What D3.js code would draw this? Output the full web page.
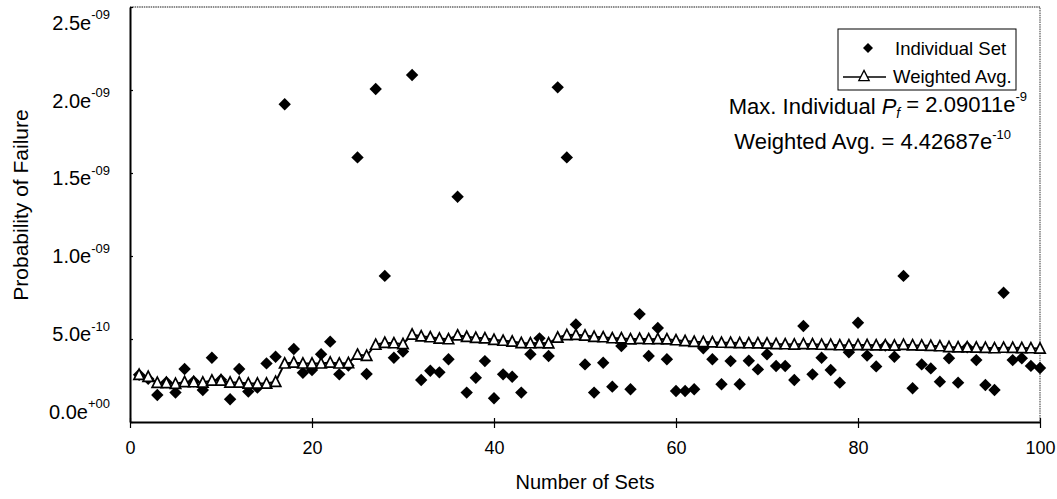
<!DOCTYPE html>
<html>
<head>
<meta charset="utf-8">
<script src="https://cdn.jsdelivr.net/npm/d3@7"></script>
<style>
  html, body { margin: 0; padding: 0; background: #fff; }
  svg { display: block; font-family: "Liberation Sans", Arial, sans-serif; }
</style>
</head>
<body>
<svg id="chart" width="1057" height="499"></svg>
<script>
// Probability of failure per set, in units of 1e-9
const setNumbers = d3.range(1, 101);
const individualSet = [
  0.285, 0.26, 0.163, 0.24, 0.177, 0.319, 0.245, 0.193, 0.387, 0.255,
  0.137, 0.319, 0.183, 0.207, 0.353, 0.393, 1.914, 0.44, 0.297, 0.313,
  0.408, 0.484, 0.287, 0.34, 1.594, 0.289, 2.006, 0.88, 0.387, 0.424,
  2.09011, 0.253, 0.309, 0.299, 0.378, 1.357, 0.177, 0.267, 0.367, 0.143,
  0.287, 0.273, 0.177, 0.408, 0.504, 0.398, 2.016, 1.594, 0.588, 0.347,
  0.177, 0.357, 0.213, 0.458, 0.197, 0.65, 0.398, 0.566, 0.378, 0.187,
  0.187, 0.197, 0.444, 0.378, 0.227, 0.367, 0.227, 0.369, 0.317, 0.408,
  0.337, 0.337, 0.253, 0.578, 0.287, 0.387, 0.313, 0.237, 0.42, 0.598,
  0.40, 0.335, 0.46, 0.393, 0.88, 0.203, 0.347, 0.323, 0.243, 0.384,
  0.237, 0.45, 0.373, 0.223, 0.193, 0.779, 0.373, 0.384, 0.338, 0.325
];
const weightedAvg = [
  0.285, 0.273, 0.236, 0.235, 0.230, 0.241, 0.240, 0.238, 0.250, 0.250,
  0.238, 0.238, 0.232, 0.232, 0.232, 0.242, 0.353, 0.358, 0.353, 0.353,
  0.353, 0.358, 0.353, 0.355, 0.406, 0.399, 0.466, 0.477, 0.475, 0.470,
  0.527, 0.517, 0.511, 0.503, 0.499, 0.522, 0.513, 0.507, 0.504, 0.495,
  0.490, 0.485, 0.476, 0.475, 0.476, 0.474, 0.509, 0.524, 0.525, 0.521,
  0.514, 0.511, 0.505, 0.504, 0.498, 0.501, 0.499, 0.500, 0.498, 0.493,
  0.488, 0.483, 0.482, 0.480, 0.478, 0.477, 0.476, 0.475, 0.474, 0.473,
  0.470, 0.469, 0.467, 0.470, 0.468, 0.466, 0.465, 0.463, 0.463, 0.464,
  0.464, 0.462, 0.462, 0.461, 0.465, 0.462, 0.461, 0.459, 0.457, 0.452,
  0.450, 0.450, 0.449, 0.447, 0.445, 0.448, 0.447, 0.446, 0.445, 0.4427
];
const xTicks = [0, 20, 40, 60, 80, 100];
const yTicks = [0, 0.5, 1.0, 1.5, 2.0, 2.5];
const yTickMantissa = ["0.0e", "5.0e", "1.0e", "1.5e", "2.0e", "2.5e"];
const yTickExponent = ["+00", "-10", "-09", "-09", "-09", "-09"];
const seriesNames = ["Individual Set", "Weighted Avg."];

const svg = d3.select("#chart");
const W = 1057, H = 499;
const margin = { left: 130, top: 7, right: 17, bottom: 77 };
const iw = W - margin.left - margin.right;
const ih = H - margin.top - margin.bottom;

const x = d3.scaleLinear().domain([0, 100]).range([margin.left, margin.left + iw]);
const y = d3.scaleLinear().domain([0, 2.5]).range([margin.top + ih, margin.top]);
// tick labels sit on a slightly tighter spacing than the tick marks
const yLabel = d3.scaleLinear().domain([0, 2.5]).range([411, 22]);

// plot frame: top and right edges are a light dotted border
svg.append("path")
  .attr("d", `M${x(0)},${y(2.5)}H${x(100)}V${y(0)}`)
  .attr("fill", "none").attr("stroke", "#666").attr("stroke-width", 1.3)
  .attr("stroke-dasharray", "1.5,0.8");

// x axis
const xAxis = svg.append("g")
  .attr("transform", `translate(0,${y(0)})`)
  .call(d3.axisBottom(x).tickValues(xTicks).tickSize(6).tickSizeOuter(0));
xAxis.select(".domain").attr("stroke", "#000").attr("stroke-width", 2);
xAxis.selectAll(".tick line").attr("stroke", "#000").attr("stroke-width", 1.2).attr("y1", -4);
xAxis.selectAll(".tick text").attr("font-size", 18).attr("fill", "#000")
  .attr("y", 26).attr("dy", "0.35em");

// y axis with exponent superscripts
const yAxis = svg.append("g")
  .attr("transform", `translate(${x(0)},0)`)
  .call(d3.axisLeft(y).tickValues(yTicks).tickSize(6).tickPadding(14).tickSizeOuter(0).tickFormat(() => ""));
yAxis.select(".domain").attr("stroke", "#000").attr("stroke-width", 2);
yAxis.selectAll(".tick line").attr("stroke", "#000").attr("stroke-width", 1.2).attr("x2", 3);
yAxis.selectAll(".tick text").each(function(d, i) {
  const t = d3.select(this).attr("font-size", 20).attr("fill", "#000")
    .attr("y", yLabel(d) - y(d)).attr("dy", "0.36em");
  t.append("tspan").text(yTickMantissa[i]);
  t.append("tspan").attr("font-size", 13).attr("dy", "-0.8em").text(yTickExponent[i]);
});

// axis titles
svg.append("text")
  .attr("x", x(50)).attr("y", 489)
  .attr("text-anchor", "middle").attr("font-size", 20).text("Number of Sets");
svg.append("text")
  .attr("transform", "translate(28,205) rotate(-90)")
  .attr("text-anchor", "middle").attr("font-size", 21).text("Probability of Failure");

const diamond = "M0,-6.2L6.2,0L0,6.2L-6.2,0Z";
const triangle = "M0,-5.6L5.2,4.6L-5.2,4.6Z";

// individual sets
svg.append("g").selectAll("path")
  .data(individualSet)
  .join("path")
  .attr("d", diamond)
  .attr("transform", (d, i) => `translate(${x(setNumbers[i])},${y(d)})`)
  .attr("fill", "#000");

// running weighted average
const line = d3.line().x((d, i) => x(setNumbers[i])).y(d => y(d));
svg.append("path")
  .datum(weightedAvg)
  .attr("d", line)
  .attr("fill", "none").attr("stroke", "#000").attr("stroke-width", 2);
svg.append("g").selectAll("path")
  .data(weightedAvg)
  .join("path")
  .attr("d", triangle)
  .attr("transform", (d, i) => `translate(${x(setNumbers[i])},${y(d)})`)
  .attr("fill", "#fff").attr("stroke", "#000").attr("stroke-width", 1.7);

// legend
const lg = svg.append("g");
lg.append("rect").attr("x", 838).attr("y", 29).attr("width", 178).attr("height", 61)
  .attr("fill", "#fff").attr("stroke", "#000").attr("stroke-width", 1);
lg.append("path").attr("d", "M0,-5L5,0L0,5L-5,0Z").attr("transform", "translate(868,48)").attr("fill", "#000");
lg.append("text").attr("x", 895).attr("y", 54.5).attr("font-size", 18.5).text(seriesNames[0]);
lg.append("line").attr("x1", 843).attr("x2", 886).attr("y1", 77).attr("y2", 77)
  .attr("stroke", "#000").attr("stroke-width", 1.4);
lg.append("path").attr("d", triangle).attr("transform", "translate(864,76)")
  .attr("fill", "#fff").attr("stroke", "#000").attr("stroke-width", 1.3);
lg.append("text").attr("x", 893).attr("y", 82.5).attr("font-size", 18.5).text(seriesNames[1]);

// summary annotations
const a1 = svg.append("text").attr("x", 1027).attr("y", 114).attr("text-anchor", "end").attr("font-size", 22);
a1.append("tspan").text("Max. Individual ");
a1.append("tspan").attr("font-style", "italic").text("P");
a1.append("tspan").attr("font-style", "italic").attr("font-size", 14).attr("dy", "0.3em").text("f");
a1.append("tspan").attr("dy", "-0.3em").text(" = 2.09011e");
a1.append("tspan").attr("font-size", 13).attr("dy", "-0.8em").text("-9");

const a2 = svg.append("text").attr("x", 1011).attr("y", 149).attr("text-anchor", "end").attr("font-size", 22);
a2.append("tspan").text("Weighted Avg. = 4.42687e");
a2.append("tspan").attr("font-size", 13).attr("dy", "-0.8em").text("-10");
</script>
</body>
</html>
